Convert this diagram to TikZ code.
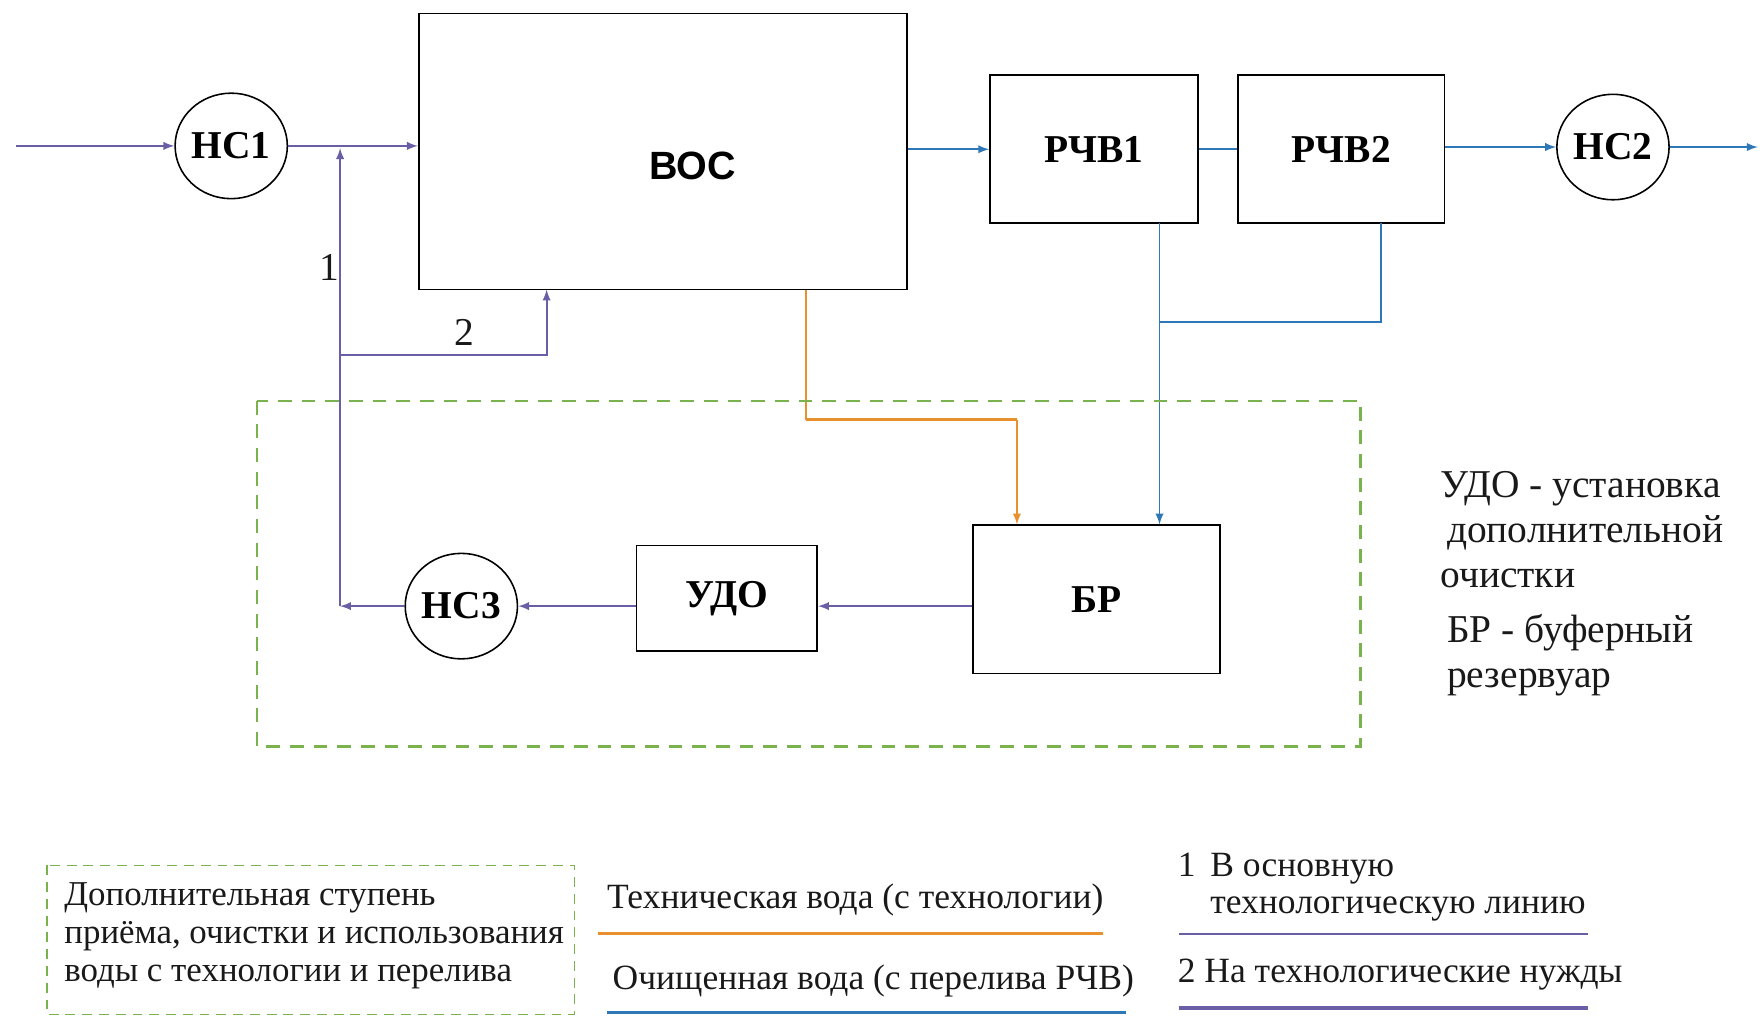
\documentclass[tikz,border=0pt]{standalone}
\usepackage{fontspec}
\setmainfont{Liberation Serif}
\setsansfont{Liberation Sans}
\usetikzlibrary{shapes.geometric}

\definecolor{purp}{HTML}{6A5FA6}
\definecolor{blu}{HTML}{2E78B8}
\definecolor{orng}{HTML}{E8912C}
\definecolor{grn}{HTML}{7AB34E}

\tikzset{
  box/.style={draw, line width=0.9pt, font=\fontsize{20}{24}\selectfont\bfseries},
  pump/.style={draw, ellipse, line width=0.8pt, minimum width=2cm, minimum height=1.88cm, inner sep=0pt, font=\fontsize{20}{24}\selectfont\bfseries},
  pline/.style={draw=purp, line width=0.9pt, >=latex},
  bline/.style={draw=blu, line width=0.9pt, >=latex},
  oline/.style={draw=orng, line width=0.9pt, >=latex},
  note/.style={font=\fontsize{18}{20}\selectfont, text=black!90, inner sep=0pt}
}

\begin{document}
\begin{tikzpicture}[x=0.02cm, y=-0.02cm]

  \useasboundingbox (0,0) rectangle (1568,905);

  % main line
  \node[box, minimum width=8.7cm, minimum height=4.92cm] (voc) at (590.5,135) {};
  \node[font=\fontsize{20}{24}\selectfont\sffamily\bfseries] (voctext) at (617,148) {ВОС};
  \node[box, minimum width=3.7cm, minimum height=2.64cm] (r1) at (974.5,133) {РЧВ1};
  \node[box, minimum width=3.68cm, minimum height=2.64cm] (r2) at (1195,133) {РЧВ2};
  \node[pump] (nc1) at (206,130) {НС1};
  \node[pump] (nc2) at (1437,131) {НС2};

  % second stage
  \node[box, minimum width=4.4cm, minimum height=2.64cm] (br) at (977,534) {БР};
  \node[box, minimum width=3.22cm, minimum height=1.88cm] (udo) at (647.5,533) {УДО};
  \node[pump] (nc3) at (411,540) {НС3};

  \coordinate (in) at (14,130);
  \coordinate (out) at (1566,131);
  \coordinate (j1) at (303,540);
  \coordinate (up) at (303,132);
  \coordinate (j3) at (303,316);
  \coordinate (voc2) at (487,258);
  \coordinate (b1) at (1033,199);
  \coordinate (b2) at (1230,199);
  \coordinate (b3) at (1033,287);
  \coordinate (o1) at (718,258);
  \coordinate (o2) at (906,374);

  \draw[pline,->] (in) -- (nc1);
  \draw[pline,->] (nc1.east) -- (nc1.east -| voc.west);
  \draw[pline,->] (nc3) -- (j1);
  \draw[pline,->] (j1) -- (up);
  \draw[pline,->] (j3) -| (voc2);
  \node[note, font=\fontsize{20}{24}\selectfont] (lab1) at (293,238) {1};
  \node[note, font=\fontsize{20}{24}\selectfont] (lab2) at (414,296) {2};

  \draw[bline,->] (r1.west -| voc.east) -- (r1.west);
  \draw[bline] (r1.east) -- (r2.west);
  \draw[bline,->] (r2.east |- nc2) -- (nc2);
  \draw[bline,->] (nc2.east) -- (out);
  \draw[bline,->] (b1) -- (b1 |- br.north);
  \draw[bline] (b2) |- (b3);

  \draw[oline] (o1) -- (o1 |- o2);
  \draw[oline, line width=1.6pt] (o1 |- o2) -- (o2);
  \draw[oline,->] (o2) -- (o2 |- br.north);

  \draw[pline,->] (br.west |- nc3) -- (udo.east |- nc3);
  \draw[pline,->] (udo.west |- nc3) -- (nc3);

  \draw[grn, line width=1.1pt, dash pattern=on 7pt off 5pt] (229,357) rectangle (1212,665);

  % notes
  \node[note, anchor=north west, align=left, font=\fontsize{20}{22.7}\selectfont] (abbr1) at (1283,420)
    {УДО - установка\\ \,дополнительной\\очистки};
  \node[note, anchor=north west, align=left, font=\fontsize{20}{22.7}\selectfont] (abbr2) at (1289,547)
    {БР - буферный\\резервуар};

  % legend
  \draw[grn, line width=0.8pt, dash pattern=on 5pt off 3.5pt] (42,771) rectangle (512,904);
  \node[note, anchor=west, align=left, font=\fontsize{17.7}{19.3}\selectfont] (leg0) at (57,834)
    {Дополнительная ступень\\приёма, очистки и использования\\воды с технологии и перелива};
  \node[note] (leg1) at (762,802) {Техническая вода (с технологии)};
  \draw[orng, line width=1.6pt] (533,832) -- (983,832);
  \node[note] (leg2) at (778,874) {Очищенная вода (с перелива РЧВ)};
  \draw[blu, line width=1.6pt] (541,902) -- (1003,902);
  \node[note, anchor=west] (leg3) at (1049,774) {1\, В основную};
  \node[note, anchor=west] (leg4) at (1078,810) {технологическую линию};
  \draw[purp, line width=1.4pt] (1050,832) -- (1415,832);
  \node[note, anchor=west] (leg5) at (1049,868) {2 На технологические нужды};
  \draw[purp, line width=2pt] (1050,898) -- (1415,898);

\end{tikzpicture}
\end{document}
